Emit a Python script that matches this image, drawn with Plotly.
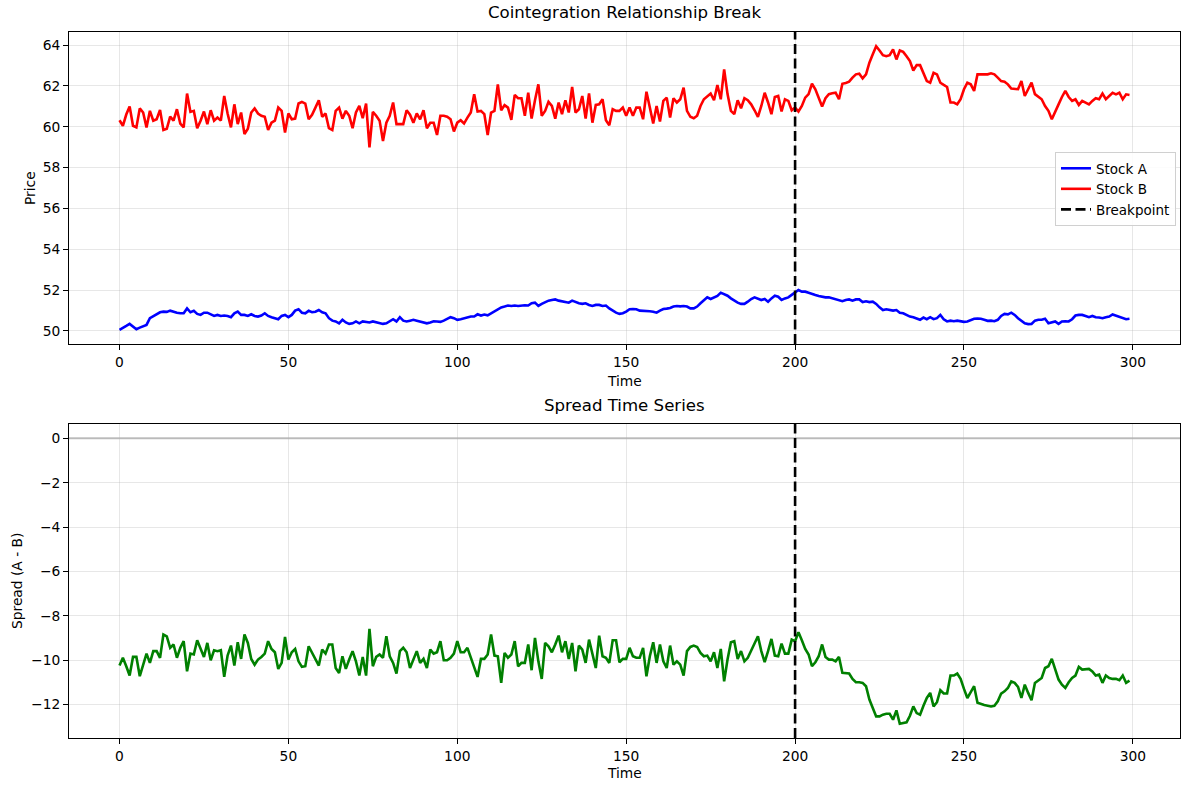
import numpy as np
import plotly.graph_objects as go

# ---------------- data ----------------
BREAKPOINT = 200

stock_b = [
    60.32, 60.05, 60.6, 61.0, 60.05, 59.97, 60.9, 60.7, 59.97, 60.78,
    60.3, 60.37, 60.83, 59.84, 59.9, 60.5, 60.3, 60.86, 60.16, 59.97,
    61.63, 60.73, 60.78, 59.93, 60.3, 60.75, 60.13, 60.81, 60.3, 60.45,
    60.3, 61.51, 60.65, 59.97, 61.1, 60.13, 60.7, 59.64, 59.9, 60.7,
    60.9, 60.65, 60.54, 60.49, 59.84, 60.2, 60.3, 60.94, 60.78, 59.72,
    60.65, 60.37, 60.4, 61.14, 61.22, 61.14, 60.37, 60.59, 60.94, 61.3,
    60.49, 60.65, 59.93, 59.84, 60.78, 60.94, 60.4, 60.78, 60.54, 59.93,
    60.7, 61.02, 60.42, 61.14, 58.99, 60.73,
    60.54, 60.3, 59.3, 60.2, 60.54, 61.19, 60.13, 60.13, 60.13, 60.81,
    60.59, 60.2, 60.65, 60.37, 60.81, 59.93, 60.2, 60.2, 59.6, 60.54,
    60.54, 60.49, 60.37, 59.77, 60.2, 60.32, 60.16, 60.45, 60.7, 61.6,
    60.75, 60.78, 60.62, 59.6, 60.7, 60.78, 62.08, 60.81, 61.06, 60.94,
    60.34, 61.56, 61.4, 61.4, 60.54, 61.67, 60.4, 61.3, 62.08, 60.54,
    60.78, 61.22, 61.02, 60.4, 61.19, 60.62, 61.3, 60.7, 61.95, 60.7,
    60.86, 61.51, 60.4, 61.64, 60.2, 61.07, 61.1, 61.35, 60.32, 60.08,
    60.86, 60.78, 60.78, 60.94, 60.54,
    60.94, 60.54, 60.94, 60.94, 60.37, 61.72, 60.94, 60.16, 61.02, 60.26,
    61.27, 61.43, 60.45, 61.4, 61.19, 61.35, 61.92, 60.78, 60.49, 60.42,
    60.54, 61.02, 61.35, 61.51, 61.63, 61.3, 62.05, 61.35, 62.81, 61.6,
    60.78, 60.62, 61.3, 60.91, 61.4, 61.3, 61.1, 60.81, 60.49, 61.02,
    61.67, 61.19, 60.62, 61.46, 61.51, 60.75, 61.35, 61.27, 60.81, 60.94,
    60.75, 61.02, 61.43, 61.6, 62.11, 61.84, 61.43, 60.99, 61.4, 61.6,
    61.64, 61.67, 61.35, 62.11, 62.15, 62.21, 62.41, 62.57, 62.6, 62.37,
    62.57, 63.14, 63.55, 63.95, 63.74, 63.51, 63.46, 63.51,
    63.79, 63.3, 63.74, 63.67, 63.46, 63.22, 62.76, 63.02, 63.02, 62.65,
    62.24, 62.16, 62.65, 62.57, 62.16, 62.05, 61.95, 61.19, 61.19, 61.1,
    61.35, 61.84, 62.16, 62.08, 61.76, 62.57, 62.57, 62.57, 62.57, 62.62,
    62.57, 62.41, 62.24, 62.21, 62.08, 61.87, 61.87, 61.84, 62.24, 61.51,
    61.84, 62.16, 61.6, 61.46, 61.35, 61.02, 60.78, 60.37, 60.78, 61.1,
    61.46, 61.76, 61.46, 61.27, 61.35, 61.07, 61.27, 61.19, 61.1, 61.27,
    61.4, 61.35, 61.63, 61.35, 61.51, 61.67, 61.59, 61.67, 61.35, 61.59,
    61.56,
]

stock_a = [
    50.05, 50.13, 50.24, 50.34, 50.21, 50.08, 50.16, 50.21, 50.29, 50.62,
    50.73, 50.81, 50.91, 50.94, 50.93, 50.99, 50.93, 50.89, 50.86, 50.86,
    51.1, 50.91, 50.98, 50.83, 50.78, 50.89, 50.89, 50.81, 50.73, 50.78,
    50.73, 50.75, 50.73, 50.67, 50.86, 50.94, 50.78, 50.78, 50.73, 50.81,
    50.73, 50.7, 50.75, 50.86, 50.73, 50.67, 50.62, 50.57, 50.73, 50.78,
    50.67, 50.78, 50.99, 51.06, 50.89, 50.86, 50.98, 50.91, 50.94, 51.02,
    50.91, 50.86, 50.62, 50.5, 50.46, 50.37, 50.54, 50.41, 50.34, 50.37,
    50.46, 50.37, 50.46, 50.42, 50.41, 50.46,
    50.41, 50.37, 50.34, 50.37, 50.46, 50.57, 50.46, 50.67, 50.5, 50.46,
    50.5, 50.54, 50.5, 50.46, 50.41, 50.37, 50.41, 50.47, 50.46, 50.44,
    50.5, 50.57, 50.67, 50.62, 50.54, 50.57, 50.62, 50.67, 50.7, 50.7,
    50.81, 50.75, 50.8, 50.76, 50.86, 50.96, 51.06, 51.15, 51.19, 51.24,
    51.22, 51.24, 51.22, 51.25, 51.25, 51.24, 51.35, 51.38, 51.22, 51.32,
    51.4, 51.48, 51.51, 51.54, 51.48, 51.45, 51.41, 51.38, 51.48, 51.41,
    51.35, 51.32, 51.35, 51.27, 51.22, 51.27, 51.27, 51.22, 51.24, 51.1,
    50.99, 50.89, 50.83, 50.86, 50.94, 51.06,
    51.07, 51.06, 50.99, 50.99, 50.96, 50.96, 50.94, 50.89, 50.99, 51.07,
    51.09, 51.12, 51.19, 51.22, 51.2, 51.22, 51.19, 51.1, 51.1, 51.19,
    51.35, 51.48, 51.64, 51.56, 51.64, 51.71, 51.87, 51.8, 51.72, 51.59,
    51.48, 51.38, 51.32, 51.32, 51.43, 51.56, 51.64, 51.59, 51.51, 51.56,
    51.43, 51.59, 51.72, 51.67, 51.51, 51.59, 51.64, 51.76, 51.87, 52.0,
    51.92, 51.92, 51.87, 51.8, 51.76, 51.71, 51.67, 51.64, 51.64, 51.59,
    51.56, 51.51, 51.45, 51.51, 51.54, 51.48, 51.54, 51.54, 51.41, 51.45,
    51.41, 51.43, 51.32, 51.15, 51.02, 51.06, 51.02, 50.99,
    51.02, 50.89, 50.86, 50.76, 50.7, 50.67, 50.62, 50.54, 50.65, 50.57,
    50.67, 50.57, 50.62, 50.78, 50.57, 50.46, 50.5, 50.47, 50.5, 50.46,
    50.44, 50.46, 50.54, 50.59, 50.6, 50.59, 50.54, 50.49, 50.5, 50.47,
    50.54, 50.73, 50.83, 50.81, 50.89, 50.78, 50.62, 50.5, 50.37, 50.33,
    50.34, 50.5, 50.54, 50.54, 50.59, 50.37, 50.41, 50.46, 50.34, 50.46,
    50.47, 50.46, 50.57, 50.75, 50.78, 50.78, 50.73, 50.67, 50.73, 50.67,
    50.65, 50.62, 50.67, 50.7, 50.8, 50.75, 50.7, 50.62, 50.57, 50.59,
]

spread = [
    -10.24, -9.89, -10.27, -10.69, -9.85, -9.85, -10.72, -10.2, -9.7, -10.12,
    -9.59, -9.59, -9.89, -8.84, -8.92, -9.44, -9.29, -9.89, -9.44, -9.14,
    -10.5, -9.7, -9.74, -9.1, -9.52, -9.85, -9.22, -10.0, -9.55, -9.59,
    -9.55, -10.75, -9.79, -9.34, -10.24, -9.19, -9.94, -8.84, -9.22, -9.94,
    -10.2, -9.97, -9.85, -9.7, -9.14, -9.49, -9.64, -10.39, -10.12, -8.95,
    -9.97, -9.64, -9.49, -10.05, -10.3, -10.27, -9.37, -9.64, -9.97, -10.24,
    -9.52, -9.7, -9.29, -9.29, -10.35, -10.57, -9.82, -10.39, -9.97, -9.59,
    -10.05, -10.69, -9.85, -10.69, -8.59, -10.27,
    -9.85, -9.74, -9.89, -8.92, -9.82, -10.12, -10.6, -9.59, -9.44, -9.64,
    -10.35, -9.97, -9.59, -10.12, -9.94, -10.35, -9.52, -9.7, -9.64, -9.14,
    -10.0, -10.0, -9.89, -9.7, -9.14, -9.64, -9.64, -9.44, -9.89, -10.27,
    -10.75, -9.94, -9.94, -9.74, -8.84, -9.79, -9.82, -11.02, -9.67, -9.89,
    -9.74, -9.14, -10.27, -10.12, -10.12, -9.29, -10.45, -8.99, -10.05, -10.84,
    -9.22, -9.37, -9.64, -9.29, -8.89, -9.64, -9.14, -9.94, -9.22, -10.5,
    -9.34, -9.52, -10.12, -9.07, -9.74, -10.35, -8.89, -9.82, -9.89, -10.12,
    -9.1, -9.1, -10.09, -9.94, -9.94,
    -9.44, -9.82, -9.89, -9.89, -9.44, -10.72, -9.82, -9.19, -10.12, -9.29,
    -10.05, -10.35, -9.34, -10.2, -10.05, -10.2, -10.69, -9.59, -9.4, -9.34,
    -9.4, -9.67, -9.82, -9.79, -10.05, -9.64, -10.35, -9.49, -10.95, -9.97,
    -9.19, -9.14, -9.94, -9.59, -10.05, -9.89, -9.59, -9.22, -8.92, -9.59,
    -10.09, -9.59, -9.04, -9.79, -9.82, -9.25, -9.7, -9.7, -9.07, -9.14,
    -8.74, -9.1, -9.49, -9.74, -10.27, -10.09, -9.82, -9.29, -9.85, -9.97,
    -9.97, -10.05, -9.85, -10.57, -10.57, -10.6, -10.84, -10.99, -10.99, -11.02,
    -11.17, -11.77, -12.15, -12.53, -12.53, -12.45, -12.41, -12.41,
    -12.68, -12.26, -12.86, -12.83, -12.8, -12.5, -12.08, -12.38, -12.45, -12.05,
    -11.7, -11.47, -12.08, -11.89, -11.35, -11.5, -11.5, -10.69, -10.69, -10.6,
    -10.84, -11.29, -11.7, -11.44, -11.17, -11.92, -11.98, -12.02, -12.05, -12.08,
    -12.05, -11.85, -11.5, -11.4, -11.25, -10.95, -11.02, -11.2, -11.7, -11.1,
    -11.47, -11.8, -11.02, -10.9, -10.8, -10.35, -10.27, -9.94, -10.42, -10.87,
    -11.1, -11.25, -10.99, -10.8, -10.69, -10.3, -10.42, -10.42, -10.39, -10.5,
    -10.69, -10.65, -11.02, -10.69, -10.8, -10.84, -10.84, -10.9, -10.69, -11.02,
    -10.92,
]

x_ticks = [0, 50, 100, 150, 200, 250, 300]
price_ticks = [50, 52, 54, 56, 58, 60, 62, 64]
spread_ticks = [0, -2, -4, -6, -8, -10, -12]

# ---------------- layout constants ----------------
W, H = 1189, 790
FONT = "DejaVu Sans"
TICK_PX = 13.8
TITLE_PX = 16.6
GRID = "rgba(176,176,176,0.3)"

x_left, x_right = 69, 1180
top_y0, top_y1 = 32, 344
bot_y0, bot_y1 = 424, 738


def px_x(p):
    return p / W


def px_y(p):
    return 1 - p / H


t = np.arange(len(stock_a))


def padded(lo, hi, m=0.05):
    s = hi - lo
    return [lo - m * s, hi + m * s]


xr = padded(float(t.min()), float(t.max()))
yr1 = padded(min(min(stock_a), min(stock_b)), max(max(stock_a), max(stock_b)))
yr2 = padded(min(min(spread), 0.0), max(max(spread), 0.0))

fig = go.Figure()

line_w = 2.6
fig.add_trace(go.Scatter(x=t, y=stock_a, mode="lines", name="Stock A",
                         line=dict(color="#0000ff", width=line_w),
                         xaxis="x", yaxis="y"))
fig.add_trace(go.Scatter(x=t, y=stock_b, mode="lines", name="Stock B",
                         line=dict(color="#ff0000", width=line_w),
                         xaxis="x", yaxis="y"))
fig.add_trace(go.Scatter(x=t, y=spread, mode="lines", name="Spread",
                         line=dict(color="#008000", width=line_w),
                         xaxis="x2", yaxis="y2", showlegend=False))

# zero line in the spread panel
fig.add_shape(type="line", xref="x2 domain", yref="y2", x0=0, x1=1, y0=0, y1=0,
              line=dict(color="rgba(128,128,128,0.5)", width=2), layer="below")

dash = "10px,4.5px"
fig.add_shape(type="line", xref="x", yref="y domain", x0=BREAKPOINT, x1=BREAKPOINT,
              y0=0, y1=1, line=dict(color="black", width=2.6, dash=dash),
              showlegend=True, name="Breakpoint")
fig.add_shape(type="line", xref="x2", yref="y2 domain", x0=BREAKPOINT, x1=BREAKPOINT,
              y0=0, y1=1, line=dict(color="black", width=2.6, dash=dash))

axis_common = dict(
    showline=True, linecolor="black", linewidth=1, mirror=True,
    ticks="outside", ticklen=5, tickwidth=1, tickcolor="black",
    showgrid=True, gridcolor=GRID, gridwidth=1, zeroline=False,
    tickfont=dict(family=FONT, size=TICK_PX, color="black"),
)

fig.update_layout(
    width=W, height=H,
    margin=dict(l=0, r=0, t=0, b=0),
    paper_bgcolor="white", plot_bgcolor="white",
    font=dict(family=FONT, size=TICK_PX, color="black"),
    xaxis=dict(domain=[px_x(x_left), px_x(x_right)], anchor="y", range=xr,
               tickvals=x_ticks, **axis_common),
    yaxis=dict(domain=[px_y(top_y1), px_y(top_y0)], anchor="x", range=yr1,
               tickvals=price_ticks, **axis_common),
    xaxis2=dict(domain=[px_x(x_left), px_x(x_right)], anchor="y2", range=xr,
                tickvals=x_ticks, **axis_common),
    yaxis2=dict(domain=[px_y(bot_y1), px_y(bot_y0)], anchor="x2", range=yr2,
                tickvals=spread_ticks, **axis_common),
    legend=dict(x=px_x(1176), y=px_y(152), xanchor="right", yanchor="top",
                bgcolor="rgba(255,255,255,0.85)", bordercolor="#d0d0d0", borderwidth=1,
                font=dict(family=FONT, size=13.5, color="black")),
    showlegend=True,
)

cx = px_x((x_left + x_right) / 2)
ann = [
    dict(text="Cointegration Relationship Break", x=cx, y=px_y(13), size=TITLE_PX, angle=0),
    dict(text="Spread Time Series", x=cx, y=px_y(406), size=TITLE_PX, angle=0),
    dict(text="Time", x=cx, y=px_y(381), size=TICK_PX, angle=0),
    dict(text="Time", x=cx, y=px_y(773), size=TICK_PX, angle=0),
    dict(text="Price", x=px_x(30), y=px_y((top_y0 + top_y1) / 2), size=TICK_PX, angle=-90),
    dict(text="Spread (A - B)", x=px_x(17), y=px_y((bot_y0 + bot_y1) / 2), size=TICK_PX, angle=-90),
]
for a in ann:
    fig.add_annotation(text=a["text"], x=a["x"], y=a["y"], xref="paper", yref="paper",
                       xanchor="center", yanchor="middle", showarrow=False,
                       textangle=a["angle"],
                       font=dict(family=FONT, size=a["size"], color="black"))

fig.write_html("out.html")
